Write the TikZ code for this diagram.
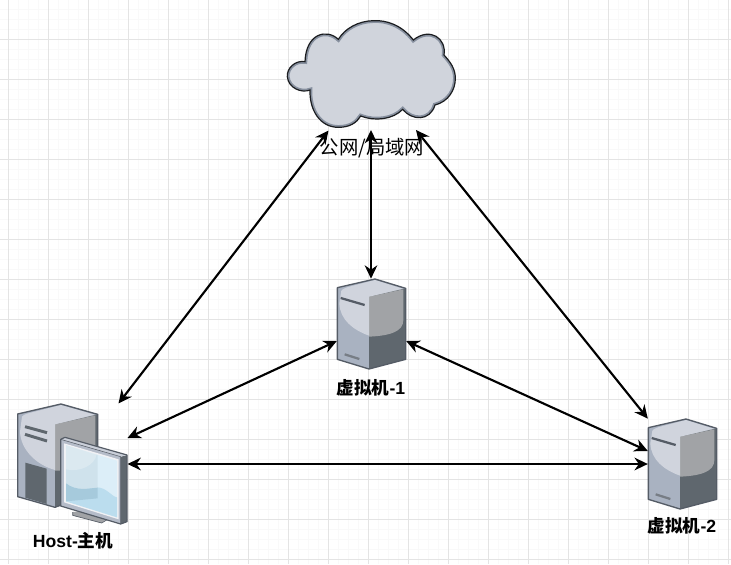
\documentclass[tikz,border=0pt]{standalone}
\usepackage{fontspec}
\setmainfont{Liberation Sans}
\newfontfamily\cjkreg{Noto Sans CJK SC}
\newfontfamily\cjkbold{Noto Sans CJK SC Bold}
\definecolor{gridmajor}{HTML}{E4E4E4}
\definecolor{gridminor}{HTML}{F9F9F9}
\definecolor{edgegrey}{HTML}{555C66}
\definecolor{sideblue}{HTML}{A9B2C1}
\definecolor{shine}{HTML}{D0D4DD}
\definecolor{rightlight}{HTML}{A1A3A6}
\definecolor{rightdark}{HTML}{5F676E}
\definecolor{cloudfill}{HTML}{D0D4DC}
\definecolor{cloudrim}{HTML}{87909F}
\definecolor{glass}{HTML}{DCEEF8}
\definecolor{glassdeep}{HTML}{BBDDEE}
\definecolor{glassback}{HTML}{CFE2EC}
\definecolor{glassbackdeep}{HTML}{A6CADC}
\usetikzlibrary{arrows.meta}
\tikzset{
  conn/.style={draw=black,line width=1.6pt,{Stealth[length=10pt,width=9.5pt]}-{Stealth[length=10pt,width=9.5pt]}},
  iconbox/.style={inner sep=0pt,outer sep=0pt,minimum width=#1,anchor=center},
  boldlabel/.style={inner sep=0pt,font=\fontsize{13.2pt}{15pt}\selectfont\bfseries},
  netlabel/.style={inner sep=0pt,font=\cjkreg\fontsize{14.5pt}{16pt}\selectfont},
}
% Rack server in units of a third of a pixel
\newcommand{\serverbody}{%
  \fill[sideblue] (52,53) -- (165,27) -- (257,55) -- (147,80) -- (147,297) -- (52,268) -- cycle;
  \fill[rightdark] (147,80) -- (257,55) -- (257,268) -- (147,297) -- cycle;
  \fill[rightlight] (147,80) -- (250,58) -- (250,150)
     .. controls (250,185) and (210,197) .. (147,200) -- cycle;
  \fill[shine] (64,62) .. controls (70,55) and (80,52) .. (95,48) -- (165,30) -- (248,56) -- (147,80) -- (147,197)
     .. controls (100,180) and (60,150) .. (58,100) -- cycle;
  \draw[edgegrey,line width=1pt,line join=round] (52,53) -- (165,27) -- (257,55) -- (257,268) -- (147,297) -- (52,268) -- cycle;
  \draw[edgegrey,line width=1.7pt] (62,84) -- (134,105);
  \draw[edgegrey!80,line width=1.7pt] (74,253) -- (118,267);
}
\begin{document}
\begin{tikzpicture}[x=.75pt,y=-.75pt]
\useasboundingbox (0,0) rectangle (731,564);
\fill[white] (0,0) rectangle (731,564);
% Background grid
\foreach \gx in {-2,8,...,728} \draw[gridminor,line width=.6pt] (\gx+.5,0) -- (\gx+.5,564);
\foreach \gy in {9,19,...,559} \draw[gridminor,line width=.6pt] (0,\gy+.5) -- (731,\gy+.5);
\foreach \gx in {8,48,...,728} \draw[gridmajor,line width=.75pt] (\gx+.5,0) -- (\gx+.5,564);
\foreach \gy in {39,79,...,559} \draw[gridmajor,line width=.75pt] (0,\gy+.5) -- (731,\gy+.5);

% Cloud
\begin{scope}[shift={(270,10)},x=.25pt,y=-.25pt]
  \def\cloudpath{(105,155) .. controls (75,150) and (50,175) .. (52,200)
    .. controls (55,235) and (95,250) .. (120,240)
    .. controls (118,300) and (150,352) .. (205,352)
    .. controls (240,352) and (260,338) .. (272,318)
    .. controls (315,335) and (370,328) .. (398,298)
    .. controls (425,332) and (480,335) .. (495,285)
    .. controls (535,275) and (556,240) .. (556,205)
    .. controls (556,175) and (540,155) .. (522,135)
    .. controls (530,85) and (480,50) .. (430,90)
    .. controls (395,45) and (350,30) .. (310,32)
    .. controls (265,33) and (225,55) .. (205,88)
    .. controls (170,55) and (108,70) .. (105,155) -- cycle}
  \fill[cloudfill] \cloudpath;
  \begin{scope}
    \clip \cloudpath;
    \draw[cloudrim,line width=3.4pt] \cloudpath;
  \end{scope}
  \draw[black!80!cloudrim,line width=.9pt] \cloudpath;
\end{scope}
\node[iconbox=165pt,minimum height=120pt] (cloud) at (372,79) {};

% Server in the middle
\begin{scope}[shift={(320,270)},x=.25pt,y=-.25pt]
  \serverbody
\end{scope}
\node[iconbox=52pt,minimum height=68pt] (vmone) at (371.5,324) {};
% Server on the right
\begin{scope}[shift={(631,410)},x=.25pt,y=-.25pt]
  \serverbody
\end{scope}
\node[iconbox=52pt,minimum height=68pt] (vmtwo) at (682.5,464) {};

% Host: tower with monitor in front
\begin{scope}[shift={(0,390)},x=.25pt,y=-.25pt]
  \fill[sideblue] (53,72) -- (183,42) -- (293,73) -- (165,103) -- (165,352) -- (53,320) -- cycle;
  \fill[rightdark] (165,103) -- (293,73) -- (293,320) -- (165,352) -- cycle;
  \fill[rightlight] (165,103) -- (286,76) -- (286,210)
     .. controls (286,230) and (240,240) .. (165,242) -- cycle;
  \fill[shine] (66,80) .. controls (72,72) and (85,70) .. (100,66) -- (183,45) -- (284,74) -- (165,103) -- (165,240)
     .. controls (110,225) and (62,180) .. (60,125) -- cycle;
  \fill[rightdark] (76,218) -- (140,236) -- (140,342) -- (76,323) -- cycle;
  \draw[edgegrey,line width=1pt,line join=round] (53,72) -- (183,42) -- (293,73) -- (293,300) -- (165,352) -- (53,320) -- cycle;
  \draw[rightdark,line width=2.2pt] (75,110) -- (141,128);
  \draw[rightdark,line width=2.2pt] (75,133) -- (141,153);
  % stand
  \fill[rightlight] (218,366) -- (240,364) -- (320,388) -- (305,399) -- (218,376) -- cycle;
  \draw[edgegrey,line width=.5pt] (218,366) -- (218,376) -- (305,399) -- (320,390);
  % monitor frame
  \fill[sideblue!70!shine] (182,148) -- (362,200) -- (362,402) -- (182,348) -- cycle;
  \fill[rightdark] (362,200) -- (381,195) -- (381,395) -- (362,402) -- cycle;
  \fill[shine!85!sideblue] (182,148) -- (195,142) -- (381,195) -- (362,200) -- cycle;
  \draw[edgegrey,line width=.9pt,line join=round] (182,148) -- (195,142) -- (381,195) -- (381,395) -- (362,402) -- (182,348) -- cycle;
  \draw[edgegrey,line width=.4pt] (182,148) -- (362,200) -- (362,402);
  % screen
  \fill[white!70!shine] (192,160) -- (356,208) -- (356,388) -- (192,337) -- cycle;
  \fill[glass] (198,166) -- (351,212) -- (351,382) -- (198,334) -- cycle;
  \fill[glassdeep] (198,280) .. controls (230,305) and (265,295) .. (290,292)
     .. controls (320,292) and (335,320) .. (351,322) -- (351,382) -- (198,334) -- cycle;
  % tower seen through the glass
  \fill[glassback] (198,166) -- (293,195) -- (293,293) .. controls (265,295) and (230,305) .. (198,280) -- cycle;
  \fill[glassbackdeep] (198,280) .. controls (230,305) and (265,295) .. (293,293) -- (293,325) -- (198,334) -- cycle;
  \fill[white,opacity=.25] (198,166) -- (290,193) .. controls (285,225) and (240,248) .. (198,238) -- cycle;
\end{scope}
\node[iconbox=94pt,minimum height=90pt] (host) at (73,472) {};

% Connectors between the three machines and the network
\coordinate (netleft) at (328.5,130.5);
\coordinate (netmid) at (371,130);
\coordinate (netright) at (416,130);
\coordinate (hosttop) at (118.5,403.5);
\coordinate (hostmid) at (127.5,438);
\coordinate (hostlow) at (127.5,464);
\draw[conn] (netleft) -- (hosttop);
\draw[conn] (netmid) -- (vmone.north -| netmid);
\draw[conn] (netright) -- (vmtwo.north west);
\draw[conn] (vmone.west |- 0,341) -- (hostmid);
\draw[conn] (vmone.east |- 0,341) -- (vmtwo.west |- 0,451);
\draw[conn] (hostlow) -- (vmtwo.west |- 0,464);

% Labels
\node[netlabel] (netname) at (372,148) {公网/局域网};
\node[boldlabel] (vmonename) at (371,388) {{\cjkbold 虚拟机}-1};
\node[boldlabel] (vmtwoname) at (682,526) {{\cjkbold 虚拟机}-2};
\node[boldlabel] (hostname) at (73,541) {Host-{\cjkbold 主机}};
\end{tikzpicture}
\end{document}
